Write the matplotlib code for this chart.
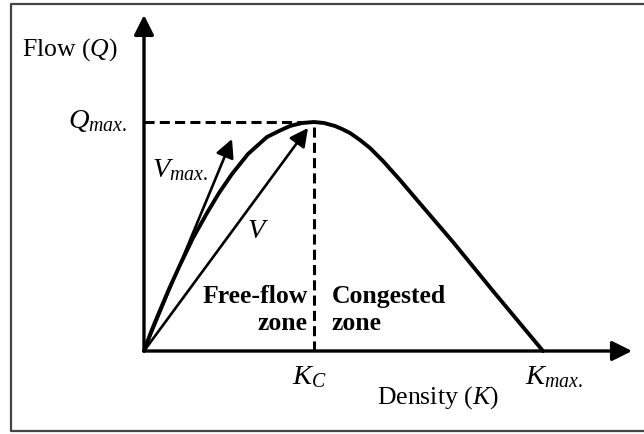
import matplotlib
matplotlib.use("Agg")
import matplotlib.pyplot as plt

plt.rcParams["font.family"] = ["Liberation Serif", "DejaVu Serif"]
plt.rcParams["mathtext.fontset"] = "custom"
plt.rcParams["mathtext.rm"] = "Liberation Serif"
plt.rcParams["mathtext.it"] = "Liberation Serif:italic"

# flow-density curve (density K, flow Q)
density = [0, 7, 14, 25, 36, 49, 63, 75, 88, 104, 114, 123, 135, 146, 158, 170,
           180, 191, 198, 206, 216, 226, 239, 256, 273, 309, 349, 399]
flow = [0, 19, 36, 62, 86, 113, 138, 158, 177, 197, 206, 214, 220, 225, 228, 229,
        228, 225, 222, 218, 211, 203, 190, 171, 151, 109, 60, 0]

k_c = 170        # critical density
q_max = 229      # capacity
k_max = 399      # jam density
vmax_tip = (88, 212)   # end of the V_max. arrow
v_tip = (164, 223)     # end of the V arrow
axis_end = (488, 336)  # ends of the K and Q axes

fig = plt.figure(figsize=(6.44, 4.34), dpi=100)
ax = fig.add_axes([0, 0, 1, 1])
ax.set_xlim(-144, 500)
ax.set_ylim(-83, 351)
ax.axis("off")

# frame (right side runs off the picture)
ax.plot([506, -133, -133, 506], [347, 347, -80, -80], color="#444444", lw=1.6)

# axes with arrow heads
axis_arrow = dict(arrowstyle="-|>,head_length=0.6,head_width=0.3", mutation_scale=20,
                  lw=2.4, color="black", shrinkA=0, shrinkB=0)
ax.annotate("", xy=(axis_end[0], 0), xytext=(0, 0), arrowprops=axis_arrow)
ax.annotate("", xy=(0, axis_end[1]), xytext=(0, 0), arrowprops=axis_arrow)

# dashed guides to the peak
ax.plot([0, k_c], [q_max, q_max], color="black", lw=2.2, ls=(0, (3.3, 1.7)))
ax.plot([k_c, k_c], [0, q_max], color="black", lw=2.2, ls=(0, (3.3, 1.7)))

# fundamental diagram
ax.plot(density, flow, color="black", lw=2.8, solid_capstyle="round",
        solid_joinstyle="round")

# speed arrows
speed_arrow = dict(arrowstyle="-|>,head_length=0.55,head_width=0.28", mutation_scale=20,
                   lw=1.9, color="black", shrinkA=0, shrinkB=0)
ax.annotate("", xy=vmax_tip, xytext=(0, 0), arrowprops=speed_arrow)
ax.annotate("", xy=v_tip, xytext=(0, 0), arrowprops=speed_arrow)

fs = 18.5
ax.text(-122, 295, "Flow ($Q$)", fontsize=fs, ha="left", va="baseline")
ax.text(-17, q_max + 1, "$Q_{max.}$", fontsize=fs + 2, ha="right", va="center")
ax.text(8, 181, "$V_{max.}$", fontsize=fs + 2, ha="left", va="center")
ax.text(114, 120, "$V$", fontsize=fs + 2, ha="center", va="center")
ax.text(164, 41, "Free-flow\nzone", fontsize=fs, fontweight="bold", ha="right",
        va="center", linespacing=1.2)
ax.text(188, 41, "Congested\nzone", fontsize=fs, fontweight="bold", ha="left",
        va="center", linespacing=1.2)
ax.text(148, -26, "$K_C$", fontsize=fs + 2, ha="left", va="center")
ax.text(381, -26, "$K_{max.}$", fontsize=fs + 2, ha="left", va="center")
ax.text(294, -47, "Density ($K$)", fontsize=fs, ha="center", va="center")

fig.savefig("out.png", dpi=100)
